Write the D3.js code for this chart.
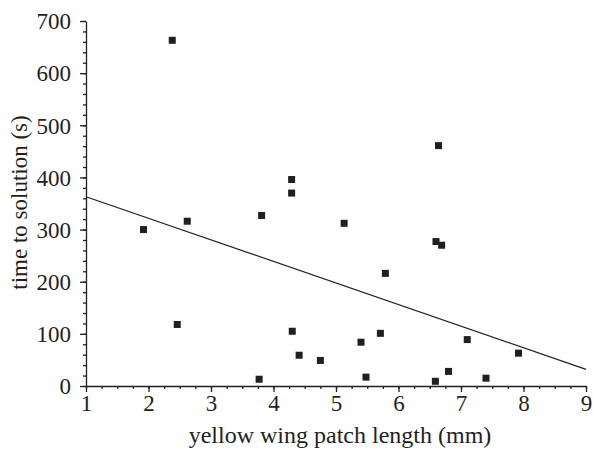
<!DOCTYPE html>
<html>
<head>
<meta charset="utf-8">
<script src="https://cdn.jsdelivr.net/npm/d3@7"></script>
<style>
  body { margin: 0; background: #fff; }
  text { font-family: "Liberation Serif", "Times New Roman", serif; fill: #231f20; }
</style>
</head>
<body>
<script>
// patch length (mm) and time to solution (s)
var patchLength = [1.92, 2.38, 2.46, 2.62, 3.77, 3.81, 4.29, 4.29, 4.30, 4.41, 4.75, 5.13,
                   5.40, 5.48, 5.71, 5.79, 6.64, 6.60, 6.69, 6.59, 6.80, 7.10, 7.40, 7.92];
var solveTime   = [300, 663, 118, 316, 13, 327, 396, 370, 105, 59, 49, 312,
                   84, 17, 101, 216, 461, 277, 270, 9, 28, 89, 15, 63];
// fitted line end points
var fitX = [1, 9];
var fitY = [363, 32];
var xTicks = [1, 2, 3, 4, 5, 6, 7, 8, 9];
var yTicks = [0, 100, 200, 300, 400, 500, 600, 700];

var width = 593, height = 452;
var margin = {top: 21, right: 7, bottom: 66, left: 86};

var svg = d3.select("body").append("svg")
    .attr("width", width)
    .attr("height", height);

var x = d3.scaleLinear().domain([1, 9]).range([margin.left, width - margin.right]);
var y = d3.scaleLinear().domain([0, 700]).range([height - margin.bottom, margin.top]);

var ink = "#231f20";

// minor ticks first, then the main axis on top
svg.append("g")
    .attr("transform", "translate(0," + y(0) + ")")
    .call(d3.axisBottom(x).tickValues(d3.range(1, 9.01, 0.25)).tickSize(3).tickFormat(""))
    .call(function(g){ g.select(".domain").remove(); });
svg.append("g")
    .attr("transform", "translate(" + x(1) + ",0)")
    .call(d3.axisLeft(y).tickValues(d3.range(0, 701, 20)).tickSize(3).tickFormat(""))
    .call(function(g){ g.select(".domain").remove(); });

var xAxis = svg.append("g")
    .attr("transform", "translate(0," + y(0) + ")")
    .call(d3.axisBottom(x).tickValues(xTicks).tickSize(6).tickSizeOuter(0).tickPadding(3).tickFormat(d3.format("d")));
var yAxis = svg.append("g")
    .attr("transform", "translate(" + x(1) + ",0)")
    .call(d3.axisLeft(y).tickValues(yTicks).tickSize(6).tickSizeOuter(0).tickPadding(9).tickFormat(d3.format("d")));

svg.selectAll(".domain, .tick line").attr("stroke", ink).attr("stroke-width", 1.3);
svg.selectAll(".tick text").attr("font-size", 23).attr("fill", ink);
yAxis.selectAll(".tick text").attr("dy", "0.34em");

// regression line
svg.append("line")
    .attr("x1", x(fitX[0])).attr("y1", y(fitY[0]))
    .attr("x2", x(fitX[1])).attr("y2", y(fitY[1]))
    .attr("stroke", ink).attr("stroke-width", 1.2);

// points
var s = 7;
svg.selectAll("rect.pt")
    .data(d3.range(patchLength.length))
  .enter().append("rect")
    .attr("class", "pt")
    .attr("x", function(i){ return x(patchLength[i]) - s / 2; })
    .attr("y", function(i){ return y(solveTime[i]) - s / 2; })
    .attr("width", s).attr("height", s)
    .attr("fill", ink);

// axis titles
svg.append("text")
    .attr("x", (x(1) + x(9)) / 2 + 4)
    .attr("y", 443)
    .attr("text-anchor", "middle")
    .attr("font-size", 24)
    .text("yellow wing patch length (mm)");

svg.append("text")
    .attr("transform", "translate(27," + ((y(0) + y(700)) / 2 - 1) + ") rotate(-90)")
    .attr("text-anchor", "middle")
    .attr("font-size", 23)
    .text("time to solution (s)");
</script>
</body>
</html>
